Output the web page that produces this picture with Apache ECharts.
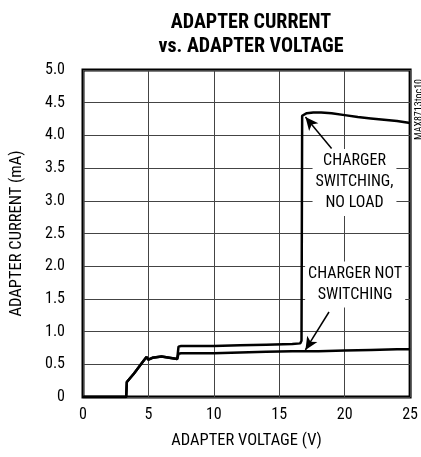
<!DOCTYPE html>
<html>
<head>
<meta charset="utf-8">
<script src="https://cdn.jsdelivr.net/npm/echarts@6/dist/echarts.min.js"></script>
<style>html,body{margin:0;padding:0;background:#fff}#c{width:421px;height:457px}</style>
</head>
<body>
<div id="c"></div>
<script>
var titleLines = ['ADAPTER CURRENT', 'vs. ADAPTER VOLTAGE'];
var xName = 'ADAPTER VOLTAGE (V)';
var yName = 'ADAPTER CURRENT (mA)';
var xTicks = [0, 5, 10, 15, 20, 25];
var yTickLabels = ['0', '0.5', '1.0', '1.5', '2.0', '2.5', '3.0', '3.5', '4.0', '4.5', '5.0'];

var switchX = [0, 3.3, 3.35, 3.9, 4.5, 4.85, 5.0, 5.3, 6.0, 6.6, 7.2, 7.3, 7.5, 10, 12, 14, 16, 16.6, 16.7, 16.75, 17.1, 17.6, 18.2, 19, 20, 21, 22, 23, 24, 25];
var switchY = [0, 0, 0.23, 0.36, 0.52, 0.61, 0.57, 0.6, 0.62, 0.6, 0.58, 0.77, 0.78, 0.78, 0.79, 0.8, 0.81, 0.82, 0.86, 4.3, 4.34, 4.35, 4.35, 4.34, 4.31, 4.28, 4.26, 4.24, 4.22, 4.19];

var noSwitchX = [0, 3.3, 3.35, 3.9, 4.5, 4.85, 5.0, 5.3, 6.0, 6.6, 7.2, 7.3, 7.5, 10, 12, 14, 16, 18, 20, 22, 24, 25];
var noSwitchY = [0, 0, 0.23, 0.36, 0.52, 0.61, 0.57, 0.6, 0.62, 0.6, 0.58, 0.66, 0.67, 0.67, 0.68, 0.69, 0.7, 0.7, 0.71, 0.72, 0.73, 0.73];

function pairs(xs, ys) { return xs.map(function (x, i) { return [x, ys[i]]; }); }

var FONT = '"Liberation Sans Narrow", "Roboto Condensed", "Liberation Sans", sans-serif';
var chart = echarts.init(document.getElementById('c'), null, {renderer: 'canvas'});
chart.setOption({
  animation: false,
  backgroundColor: '#fff',
  title: {
    text: titleLines.join('\n'),
    left: 246, top: 6, textAlign: 'center',
    textStyle: {fontFamily: FONT, fontWeight: 'bold', fontSize: 20, lineHeight: 24, color: '#000'}
  },
  grid: {left: 81, right: 9, top: 70, bottom: 60, show: true, borderColor: '#000', borderWidth: 3, containLabel: false},
  xAxis: {
    type: 'value', min: 0, max: 25, interval: 5,
    name: xName, nameLocation: 'middle', nameGap: 35,
    nameTextStyle: {fontFamily: FONT, fontSize: 16.5, color: '#000'},
    axisLine: {show: false}, axisTick: {show: false},
    axisLabel: {fontFamily: FONT, fontSize: 16, color: '#000', margin: 10,
      formatter: function (v) { return xTicks.indexOf(v) >= 0 ? String(v) : ''; }},
    splitLine: {show: true, lineStyle: {color: '#444', width: 1}}
  },
  yAxis: {
    type: 'value', min: 0, max: 5, interval: 0.5,
    name: yName, nameLocation: 'middle', nameGap: 58,
    nameTextStyle: {fontFamily: FONT, fontSize: 16.5, color: '#000'},
    axisLine: {show: false}, axisTick: {show: false},
    axisLabel: {fontFamily: FONT, fontSize: 16, color: '#000', margin: 18,
      formatter: function (v) { return yTickLabels[Math.round(v * 2)]; }},
    splitLine: {show: true, lineStyle: {color: '#444', width: 1}}
  },
  series: [
    {
      type: 'line', data: pairs(switchX, switchY), showSymbol: false, symbol: 'none',
      lineStyle: {color: '#000', width: 2.5}, z: 3,
      markLine: {
        silent: true, symbol: ['none', 'arrow'], symbolSize: [9, 13],
        lineStyle: {color: '#000', width: 1.5, type: 'solid'},
        label: {show: false},
        data: [
          [{coord: [19.0, 3.8]}, {coord: [17.0, 4.28]}],
          [{coord: [18.8, 1.3]}, {coord: [17.0, 0.72]}]
        ]
      },
      markPoint: {
        symbol: 'circle', symbolSize: 0, silent: true,
        label: {
          show: true, position: 'inside', fontFamily: FONT, fontSize: 16, color: '#000',
          lineHeight: 21, align: 'center', backgroundColor: '#fff', padding: [2, 3]
        },
        data: [
          {coord: [20.75, 3.28], value: 0, label: {formatter: 'CHARGER\nSWITCHING,\nNO LOAD'}},
          {coord: [20.8, 1.72], value: 0, label: {formatter: 'CHARGER NOT\nSWITCHING'}}
        ]
      }
    },
    {
      type: 'line', data: pairs(noSwitchX, noSwitchY), showSymbol: false, symbol: 'none',
      lineStyle: {color: '#000', width: 2.5}, z: 3
    }
  ],
  graphic: [{
    type: 'text', x: 414, y: 140, rotation: Math.PI / 2,
    style: {text: 'MAX8713toc10', fontFamily: FONT, fontSize: 10, fill: '#000', textAlign: 'left', textVerticalAlign: 'top'}
  }]
});
</script>
</body>
</html>
